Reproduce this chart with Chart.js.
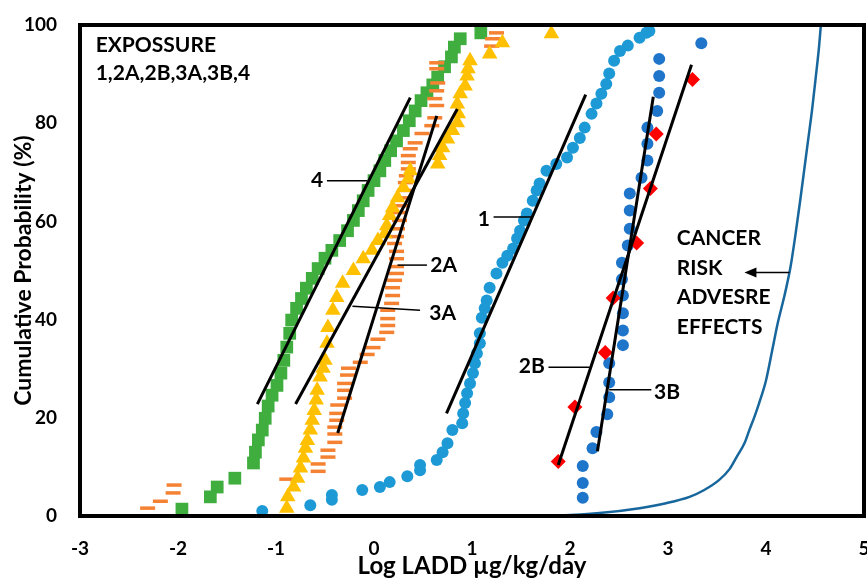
<!DOCTYPE html>
<html>
<head>
<meta charset="utf-8">
<script src="https://cdn.jsdelivr.net/npm/chart.js@4.4.1/dist/chart.umd.min.js"></script>
<style>
  html, body { margin: 0; padding: 0; background: #fff; }
  canvas { display: block; }
</style>
</head>
<body>
<canvas id="ladChart" width="867" height="578"></canvas>
<script>
// axis ranges / ticks
const xRange = [-3, 5];
const yRange = [0, 100];
const xStep = 1;
const yStep = 20;

// exposure series, [log LADD, cumulative probability %]
const exposure4 = [
  [-1.96, 1.4], [-1.67, 3.9], [-1.60, 5.9], [-1.42, 7.7], [-1.23, 10.8], [-1.21, 13.0],
  [-1.18, 15.5], [-1.14, 17.5], [-1.11, 19.9], [-1.08, 22.4], [-1.04, 24.6], [-0.99, 26.6],
  [-0.95, 29.1], [-0.92, 31.7], [-0.89, 34.4], [-0.86, 37.2], [-0.84, 39.9], [-0.79, 42.3],
  [-0.74, 44.3], [-0.69, 46.4], [-0.63, 48.4], [-0.57, 50.4], [-0.50, 52.5], [-0.43, 54.1],
  [-0.35, 56.1], [-0.27, 58.1], [-0.21, 60.2], [-0.16, 62.2], [-0.11, 64.2], [-0.06, 66.3],
  [0.00, 68.3], [0.06, 70.3], [0.11, 72.4], [0.17, 74.4], [0.23, 76.4], [0.30, 78.5],
  [0.36, 80.5], [0.42, 82.5], [0.48, 84.6], [0.54, 86.2], [0.60, 87.8], [0.65, 89.4],
  [0.72, 91.5], [0.79, 93.5], [0.82, 95.5], [0.88, 97.2], [1.09, 98.4]
];

const exposure2A = [
  [-2.31, 1.6], [-2.18, 3.0], [-2.05, 4.7], [-2.04, 6.3], [-0.89, 7.5], [-0.57, 9.1],
  [-0.57, 10.6], [-0.47, 12.0], [-0.47, 13.4], [-0.40, 15.0], [-0.40, 16.7], [-0.40, 18.1],
  [-0.38, 19.5], [-0.38, 20.9], [-0.37, 22.6], [-0.30, 24.0], [-0.30, 25.6], [-0.30, 27.0],
  [-0.27, 28.7], [-0.26, 30.1], [-0.14, 31.3], [-0.07, 32.9], [-0.01, 34.3], [0.04, 36.0],
  [0.13, 37.4], [0.14, 38.8], [0.14, 40.2], [0.14, 41.9], [0.18, 43.3], [0.19, 44.9],
  [0.19, 46.5], [0.21, 48.0], [0.23, 49.4], [0.23, 50.8], [0.23, 52.4], [0.23, 53.9],
  [0.21, 55.5], [0.23, 56.9], [0.24, 58.5], [0.26, 60.2], [0.26, 61.8], [0.29, 63.2],
  [0.29, 64.8], [0.31, 66.3], [0.32, 67.9], [0.33, 69.3], [0.35, 70.7], [0.35, 72.0],
  [0.35, 73.4], [0.37, 74.8], [0.42, 76.0], [0.49, 77.9], [0.59, 79.5], [0.62, 81.1],
  [0.64, 83.6], [0.62, 85.0], [0.64, 86.6], [0.65, 88.2], [0.64, 91.1], [0.64, 92.3],
  [1.20, 95.7], [1.21, 97.2], [1.25, 98.4]
];

const exposure3A = [
  [-0.89, 1.6], [-0.88, 3.9], [-0.82, 5.9], [-0.78, 7.7], [-0.75, 9.8], [-0.72, 11.8],
  [-0.70, 13.8], [-0.68, 15.4], [-0.65, 17.5], [-0.63, 19.5], [-0.61, 21.5], [-0.59, 23.6],
  [-0.58, 25.6], [-0.55, 28.3], [-0.52, 30.1], [-0.50, 31.7], [-0.48, 35.2], [-0.47, 38.4],
  [-0.42, 41.9], [-0.38, 44.5], [-0.32, 47.4], [-0.21, 50.0], [-0.11, 52.4], [-0.02, 54.1],
  [0.04, 56.1], [0.11, 57.5], [0.13, 59.1], [0.16, 61.2], [0.19, 62.8], [0.24, 64.8],
  [0.30, 66.9], [0.35, 68.7], [0.37, 70.3], [0.65, 71.7], [0.67, 73.4], [0.70, 75.0],
  [0.75, 76.8], [0.80, 78.5], [0.85, 80.1], [0.86, 81.9], [0.85, 83.9], [0.88, 86.0],
  [0.93, 87.6], [0.95, 89.6], [0.96, 91.1], [0.98, 92.7], [1.18, 94.1], [1.31, 96.4],
  [1.81, 98.2]
];

const exposure1 = [
  [-1.14, 1.0], [-0.65, 2.2], [-0.43, 3.3], [-0.43, 4.3], [-0.12, 5.3], [0.06, 5.9],
  [0.16, 6.9], [0.34, 8.1], [0.47, 9.3], [0.47, 10.4], [0.64, 11.4], [0.70, 13.0],
  [0.75, 14.8], [0.80, 17.5], [0.90, 18.9], [0.91, 20.9], [0.93, 23.0], [0.95, 25.0],
  [0.98, 27.0], [1.01, 29.1], [1.03, 31.1], [1.05, 33.1], [1.08, 35.2], [1.08, 37.2],
  [1.10, 40.4], [1.13, 42.3], [1.15, 43.9], [1.18, 46.5], [1.25, 49.4], [1.31, 51.6],
  [1.36, 53.0], [1.42, 54.5], [1.46, 56.5], [1.49, 58.1], [1.53, 60.2], [1.56, 61.6],
  [1.62, 64.2], [1.66, 66.3], [1.69, 67.7], [1.76, 70.3], [1.86, 71.7], [1.97, 73.0],
  [2.03, 75.0], [2.10, 77.0], [2.15, 79.1], [2.22, 81.9], [2.27, 84.0], [2.32, 86.0],
  [2.37, 88.0], [2.40, 90.1], [2.45, 92.7], [2.51, 94.7], [2.59, 95.8], [2.71, 97.4],
  [2.78, 98.4], [2.81, 98.8]
];

const exposure3B = [
  [2.13, 3.7], [2.13, 6.7], [2.13, 10.2], [2.23, 13.8], [2.27, 17.1], [2.38, 20.7],
  [2.40, 24.2], [2.40, 27.2], [2.40, 31.1], [2.54, 34.8], [2.54, 37.8], [2.54, 41.3],
  [2.54, 44.9], [2.53, 48.2], [2.53, 51.6], [2.59, 55.1], [2.61, 58.5], [2.61, 62.2],
  [2.61, 65.7], [2.73, 68.9], [2.79, 72.4], [2.79, 75.8], [2.79, 79.1], [2.89, 82.5],
  [2.91, 86.2], [2.91, 89.6], [2.91, 93.1], [3.34, 96.3]
];

const exposure2B = [
  [1.88, 11.1], [2.05, 22.2], [2.36, 33.3], [2.44, 44.4], [2.68, 55.6], [2.82, 66.7],
  [2.88, 77.8], [3.25, 88.9]
];

// fitted lines, two end points each
const fit4 = [[-1.19, 22.8], [0.37, 85.2]];
const fit3A = [[-0.80, 22.8], [0.85, 82.9]];
const fit2A = [[-0.37, 16.9], [0.64, 81.5]];
const fit1 = [[0.74, 20.9], [2.16, 85.8]];
const fit2B = [[1.88, 10.4], [3.24, 91.9]];
const fit3B = [[2.28, 13.2], [2.85, 85.4]];

// cancer risk / adverse effects curve
const riskCurve = [
  [1.57, 0.0], [1.89, 0.1], [2.30, 0.6], [2.71, 1.6], [2.98, 2.6], [3.22, 3.9],
  [3.37, 5.3], [3.52, 7.3], [3.63, 9.6], [3.70, 12.0], [3.78, 14.8], [3.83, 17.5],
  [3.88, 20.1], [3.93, 23.0], [4.00, 27.6], [4.06, 33.4], [4.12, 39.3], [4.19, 45.0],
  [4.25, 50.7], [4.30, 57.2], [4.35, 64.4], [4.39, 70.5], [4.43, 76.6], [4.47, 82.7],
  [4.51, 89.8], [4.54, 95.3], [4.56, 100.0]
];

const FONT = 'Lato, "Open Sans", "DejaVu Sans", sans-serif';
const toXY = arr => arr.map(p => ({ x: p[0], y: p[1] }));

function fitLine(pts) {
  return {
    type: 'scatter', data: toXY(pts), showLine: true,
    borderColor: '#000', borderWidth: 3, pointRadius: 0, clip: false
  };
}

// labels with leader lines, in data units
const callouts = [
  { text: '4', at: [-0.58, 68.3], from: [-0.48, 68.3], to: [-0.07, 68.3] },
  { text: '1', at: [1.12, 60.5], from: [1.22, 60.9], to: [1.62, 60.9] },
  { text: '2A', at: [0.71, 51.1], from: [0.24, 51.1], to: [0.54, 51.1] },
  { text: '3A', at: [0.70, 41.3], from: [-0.22, 42.7], to: [0.47, 41.9] },
  { text: '2B', at: [1.61, 30.6], from: [1.78, 30.3], to: [2.20, 30.3] },
  { text: '3B', at: [2.99, 25.3], from: [2.40, 25.7], to: [2.83, 25.7] }
];

const annotate = {
  id: 'annotate',
  afterDatasetsDraw(chart) {
    const { ctx, chartArea: a, scales } = chart;
    const px = v => scales.x.getPixelForValue(v);
    const py = v => scales.y.getPixelForValue(v);
    ctx.save();
    ctx.strokeStyle = '#000';
    ctx.lineWidth = 4;
    ctx.strokeRect(a.left, a.top, a.right - a.left, a.bottom - a.top);

    ctx.fillStyle = '#000';
    ctx.font = 'bold 21px ' + FONT;
    ctx.textBaseline = 'middle';
    ctx.lineWidth = 1.5;
    callouts.forEach(c => {
      ctx.beginPath();
      ctx.moveTo(px(c.from[0]), py(c.from[1]));
      ctx.lineTo(px(c.to[0]), py(c.to[1]));
      ctx.stroke();
      ctx.textAlign = 'center';
      ctx.fillText(c.text, px(c.at[0]), py(c.at[1]));
    });

    ctx.textAlign = 'left';
    ctx.fillText('EXPOSSURE', px(-2.84), py(95.9));
    ctx.fillText('1,2A,2B,3A,3B,4', px(-2.84), py(90.2));

    ['CANCER', 'RISK', 'ADVESRE', 'EFFECTS'].forEach((t, i) => {
      ctx.fillText(t, px(3.09), py(56.5 - i * 6.0));
    });

    // arrow pointing at the RISK label
    const ay = py(49.6), ax1 = px(4.24), ax2 = px(3.78);
    ctx.beginPath();
    ctx.moveTo(ax1, ay);
    ctx.lineTo(ax2 + 10, ay);
    ctx.stroke();
    ctx.beginPath();
    ctx.moveTo(ax2, ay);
    ctx.lineTo(ax2 + 12, ay - 5);
    ctx.lineTo(ax2 + 12, ay + 5);
    ctx.closePath();
    ctx.fill();
    ctx.restore();
  }
};

const ctx = document.getElementById('ladChart').getContext('2d');
new Chart(ctx, {
  type: 'scatter',
  data: {
    datasets: [
      fitLine(fit4), fitLine(fit3A), fitLine(fit2A), fitLine(fit1), fitLine(fit2B), fitLine(fit3B),
      {
        label: 'Cancer risk', data: toXY(riskCurve), showLine: true, cubicInterpolationMode: 'monotone',
        borderColor: '#17669c', borderWidth: 2.5, pointRadius: 0, clip: false
      },
      {
        label: '2B', data: toXY(exposure2B), pointStyle: 'rectRot', pointRadius: 7.5,
        backgroundColor: '#ff0000', borderWidth: 0, clip: false
      },
      {
        label: '3B', data: toXY(exposure3B), pointStyle: 'circle', pointRadius: 6,
        backgroundColor: '#1f75c9', borderWidth: 0, clip: false
      },
      {
        label: '1', data: toXY(exposure1), pointStyle: 'circle', pointRadius: 6,
        backgroundColor: '#1d9ad6', borderWidth: 0, clip: false
      },
      {
        label: '3A', data: toXY(exposure3A), pointStyle: 'triangle', pointRadius: 9,
        backgroundColor: '#ffc000', borderWidth: 0, clip: false
      },
      {
        label: '2A', data: toXY(exposure2A), pointStyle: 'line', pointRadius: 7.5,
        borderColor: '#f58233', borderWidth: 3.5, clip: false
      },
      {
        label: '4', data: toXY(exposure4), pointStyle: 'rect', pointRadius: 9,
        backgroundColor: '#3fae3f', borderWidth: 0, clip: false
      }
    ]
  },
  options: {
    responsive: false,
    animation: false,
    layout: { autoPadding: false, padding: { top: 25, right: 3, left: 0, bottom: 0 } },
    plugins: {
      legend: { display: false },
      tooltip: { enabled: false }
    },
    scales: {
      x: {
        type: 'linear', min: xRange[0], max: xRange[1],
        afterFit: s => { s.height = 62; s.paddingLeft = 0; s.paddingRight = 0; },
        grid: { display: false, drawTicks: false },
        border: { display: false },
        ticks: { stepSize: xStep, color: '#000', padding: 21, font: { family: FONT, size: 19, weight: 'bold' } },
        title: {
          display: true, text: 'Log LADD µg/kg/day', color: '#000',
          padding: { top: 0, bottom: 0 },
          font: { family: FONT, size: 24, weight: 'bold', lineHeight: 1 }
        }
      },
      y: {
        type: 'linear', min: yRange[0], max: yRange[1],
        afterFit: s => { s.width = 80; s.paddingTop = 0; s.paddingBottom = 0; },
        grid: { display: false, drawTicks: false },
        border: { display: false },
        ticks: { stepSize: yStep, color: '#000', padding: 23, font: { family: FONT, size: 19, weight: 'bold' } },
        title: {
          display: true, text: 'Cumulative Probability (%)', color: '#000',
          padding: { top: 10, bottom: 0 },
          font: { family: FONT, size: 23, weight: 'bold' }
        }
      }
    }
  },
  plugins: [annotate]
});
</script>
</body>
</html>
